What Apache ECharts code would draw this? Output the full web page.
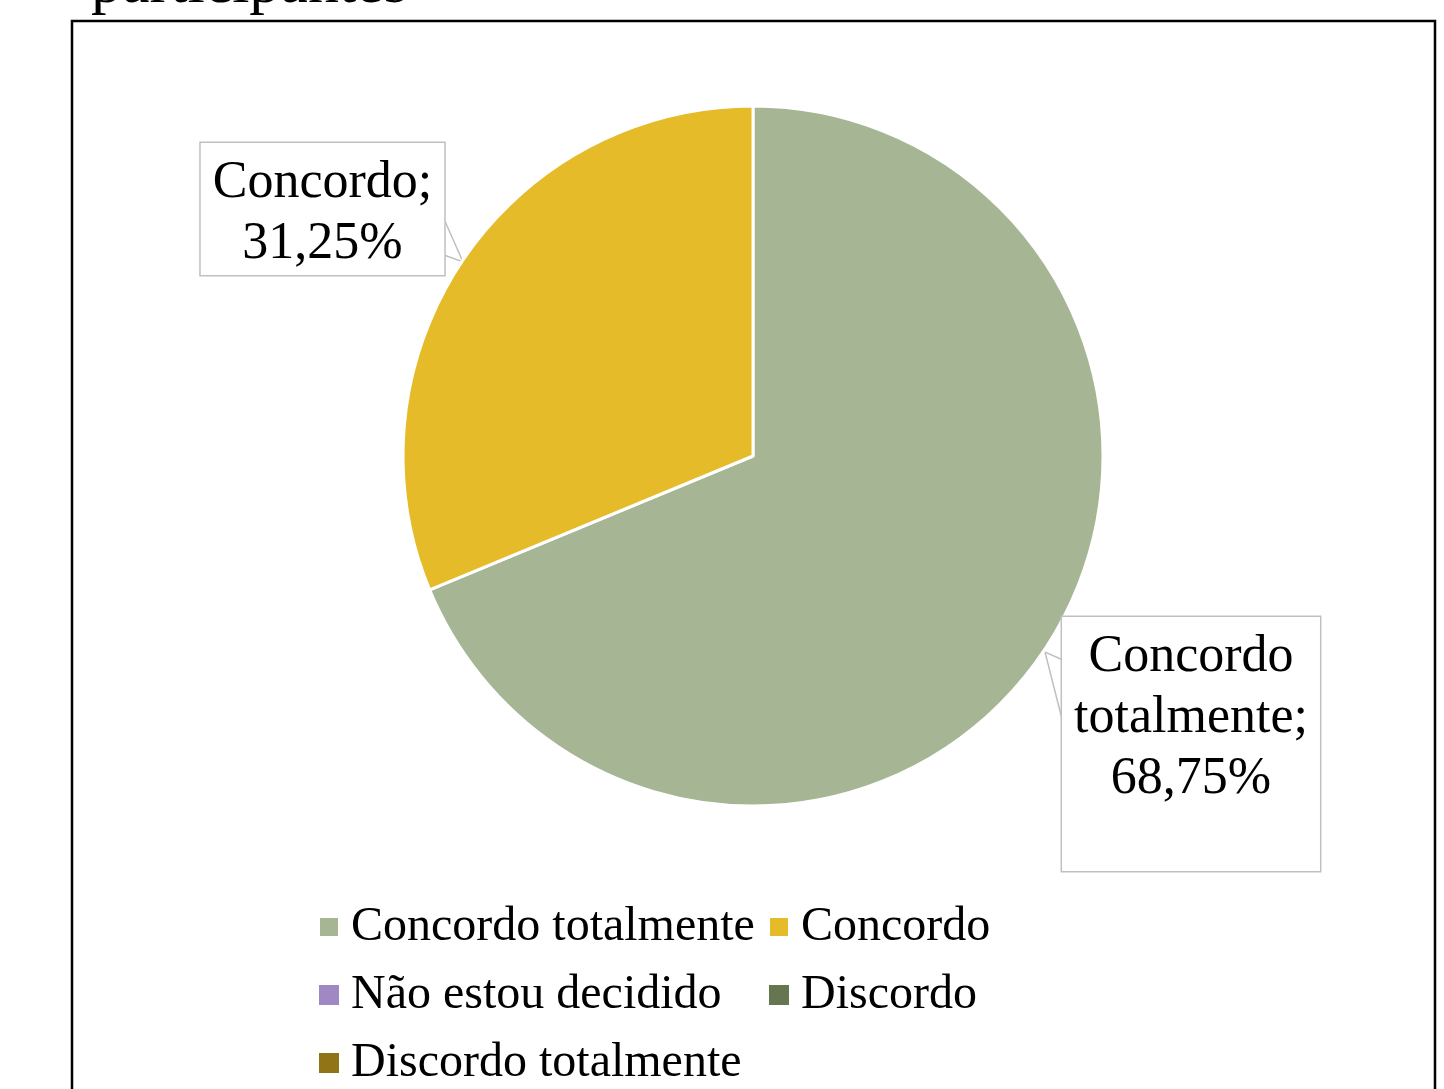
<!DOCTYPE html>
<html><head><meta charset="utf-8">
<script src="https://cdn.jsdelivr.net/npm/echarts@6/dist/echarts.min.js"></script>
<style>html,body{margin:0;padding:0;background:#fff}#c{width:1444px;height:1089px}</style>
</head><body><div id="c"></div>
<script>
const categories = ['Concordo totalmente', 'Concordo', 'Não estou decidido', 'Discordo', 'Discordo totalmente'];
const values = [68.75, 31.25, 0, 0, 0];
const colors = ['#A6B593', '#E5BB29', '#A088C5', '#667651', '#917415'];
const titleText = 'participantes';
const legendCol1 = [categories[0], categories[2], categories[4]];
const legendCol2 = [categories[1], categories[3]];

const FONT = '"Liberation Serif", "Times New Roman", serif';
const chart = echarts.init(document.getElementById('c'), null, {renderer: 'canvas'});

function fmt(p) {
  const name = p.name.split(' ').join('\n');
  return name + ';\n' + p.percent.toFixed(2).replace('.', ',') + '%';
}

const labelBase = {
  show: true, formatter: fmt, color: '#000', fontFamily: FONT, fontSize: 52, lineHeight: 61,
  backgroundColor: '#fff', borderColor: '#C0C0C0', borderWidth: 1.5, align: 'center'
};

const data = categories.map((c, i) => {
  const item = {name: c, value: values[i], itemStyle: {color: colors[i]}};
  if (values[i] === 0) {
    item.label = {show: false};
    item.labelLine = {show: false};
    item.itemStyle.borderWidth = 0;
  } else if (i === 0) {
    item.label = Object.assign({}, labelBase, {padding: [10, 12, 61, 12]});
  } else {
    item.label = Object.assign({}, labelBase, {padding: [10, 12, 0, 12]});
  }
  return item;
});

const legendText = {color: '#000', fontFamily: FONT, fontSize: 48, lineHeight: 50, padding: [0, 0, 0, 7]};

chart.setOption({
  animation: false,
  backgroundColor: '#fff',
  graphic: [
    {type: 'rect', shape: {x: 72, y: 21, width: 1363, height: 1100}, style: {fill: 'none', stroke: '#000', lineWidth: 2.5}, z: 0},
    {type: 'text', left: 91, top: -45, style: {text: titleText, font: '62px ' + FONT, fill: '#000'}}
  ],
  legend: [
    {orient: 'vertical', left: 318, top: 902, padding: 0, itemGap: 18, itemWidth: 20, itemHeight: 20,
     icon: 'rect', data: legendCol1, textStyle: legendText, selectedMode: false},
    {orient: 'vertical', left: 768, top: 902, padding: 0, itemGap: 18, itemWidth: 20, itemHeight: 20,
     icon: 'rect', data: legendCol2, textStyle: legendText, selectedMode: false}
  ],
  series: [{
    type: 'pie',
    center: [753, 456],
    radius: [0, 350],
    startAngle: 90,
    clockwise: true,
    itemStyle: {borderColor: '#fff', borderWidth: 3},
    labelLine: {show: true, lineStyle: {color: '#C0C0C0', width: 1.5}},
    labelLayout: function (p) {
      if (p.dataIndex === 0) {
        return {x: 1191, y: 617, align: 'center', verticalAlign: 'top',
          labelLinePoints: [[1063, 660], [1045, 652], [1063, 723]]};
      }
      if (p.dataIndex === 1) {
        return {x: 322.5, y: 143, align: 'center', verticalAlign: 'top',
          labelLinePoints: [[444, 219], [463, 262], [444, 255]]};
      }
    },
    data: data
  }]
});
</script></body></html>
